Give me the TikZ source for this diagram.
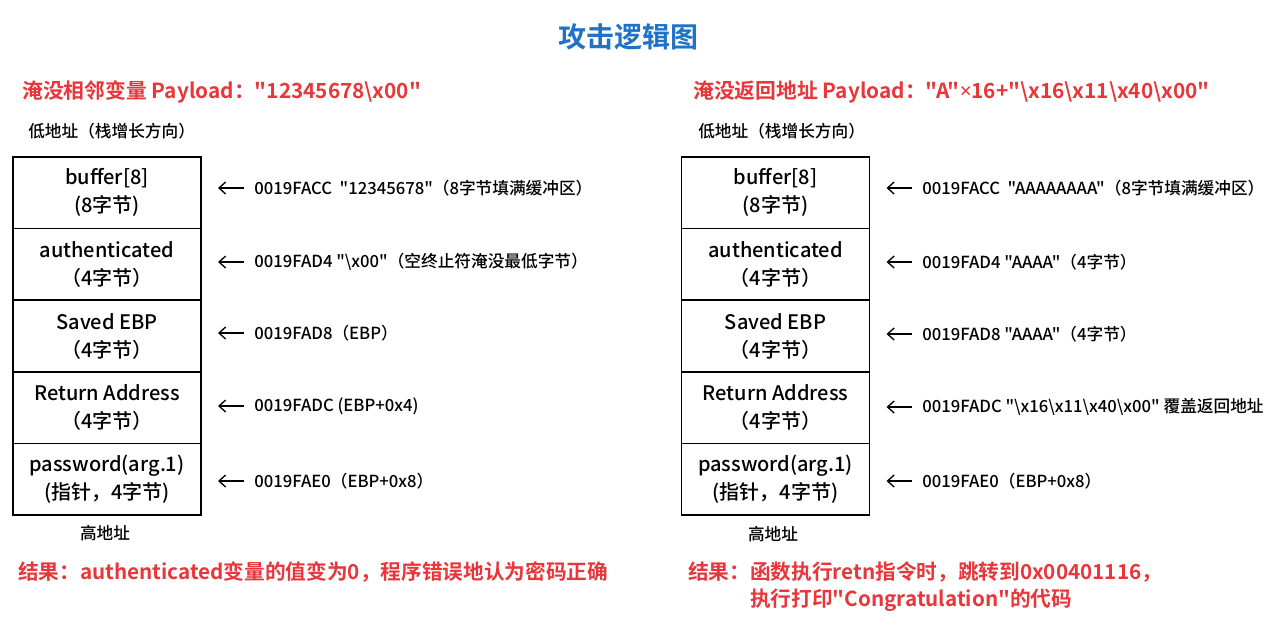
\documentclass[tikz,border=0pt]{standalone}
\usepackage{fontspec}
\setmainfont{Noto Sans CJK SC}[Ligatures=TeXOff,UprightFont={* Medium},BoldFont={* Bold}]
\newfontfamily\latinsans{Noto Sans}
\usetikzlibrary{positioning,arrows.meta}
\definecolor{payred}{HTML}{E8363A}
\definecolor{titleblue}{HTML}{1E73C8}
\newcommand{\bsl}{\textbackslash}
\newcommand{\mult}{{\latinsans ×}}

\begin{document}
\begin{tikzpicture}
        [
          x=0.75pt, y=-0.75pt,
          cell/.style={draw, line width=1.1pt, minimum width=141pt, minimum height=53.7pt,
            outer sep=0pt, inner sep=0pt, align=center, font=\fontsize{15}{21}\selectfont},
          note/.style={anchor=west, inner sep=0pt, font=\fontsize{12.5}{14}\selectfont},
          addr/.style={inner sep=0pt, font=\fontsize{12.5}{14}\selectfont},
          payload/.style={anchor=west, inner sep=0pt, text=payred, font=\bfseries\fontsize{15.6}{19}\selectfont},
          result/.style={anchor=west, inner sep=0pt, text=payred, align=left, font=\bfseries\fontsize{15.5}{20}\selectfont},
          ptr/.style={-{Straight Barb[length=5pt,width=9pt]}, line width=1pt, shorten >=12.75pt, shorten <=7.5pt}
        ]
        \useasboundingbox (0,0) rectangle (1288,626);

        % title
        \node[text=titleblue, font=\bfseries\fontsize{21}{24}\selectfont] (title) at (628,37) {攻击逻辑图};

        % left: overflow into authenticated
        \node[payload] (lpay) at (22,92) {淹没相邻变量 Payload："12345678\bsl x00"};
        \node[addr, anchor=west] (llow) at (28,131) {低地址（栈增长方向）};
        \node[cell] (lcell1) at (107,192.8) {buffer[8]\\(8字节)};
        \node[cell, below=0pt of lcell1] (lcell2) {authenticated\\（4字节）};
        \node[cell, below=0pt of lcell2] (lcell3) {Saved EBP\\（4字节）};
        \node[cell, below=0pt of lcell3] (lcell4) {Return Address\\（4字节）};
        \node[cell, below=0pt of lcell4] (lcell5) {password(arg.1)\\(指针，4字节)};
        \node[addr] (lhigh) at (105,533) {高地址};
        \node[note] (lnote1) at (254,188) {0019FACC\ \ "12345678"（8字节填满缓冲区）};
        \node[note] (lnote2) at (254,262) {0019FAD4 "\bsl x00"（空终止符淹没最低字节）};
        \node[note] (lnote3) at (254,333) {0019FAD8（EBP）};
        \node[note] (lnote4) at (254,406) {0019FADC (EBP+0x4)};
        \node[note] (lnote5) at (254,481) {0019FAE0（EBP+0x8）};
        \node[result] (lres) at (18,572) {结果：authenticated变量的值变为0，程序错误地认为密码正确};

        % right: overflow into return address
        \node[payload] (rpay) at (693,92) {淹没返回地址 Payload："A"\mult 16+"\bsl x16\bsl x11\bsl x40\bsl x00"};
        \node[addr, anchor=west] (rlow) at (698,131) {低地址（栈增长方向）};
        \node[cell] (rcell1) at (775.5,192.8) {buffer[8]\\(8字节)};
        \node[cell, below=0pt of rcell1] (rcell2) {authenticated\\（4字节）};
        \node[cell, below=0pt of rcell2] (rcell3) {Saved EBP\\（4字节）};
        \node[cell, below=0pt of rcell3] (rcell4) {Return Address\\（4字节）};
        \node[cell, below=0pt of rcell4] (rcell5) {password(arg.1)\\(指针，4字节)};
        \node[addr] (rhigh) at (773,534) {高地址};
        \node[note] (rnote1) at (922,188) {0019FACC\ \ "AAAAAAAA"（8字节填满缓冲区）};
        \node[note] (rnote2) at (922,262) {0019FAD4 "AAAA"（4字节）};
        \node[note] (rnote3) at (922,334) {0019FAD8 "AAAA"（4字节）};
        \node[note] (rnote4) at (922,407) {0019FADC "\bsl x16\bsl x11\bsl x40\bsl x00" 覆盖返回地址};
        \node[note] (rnote5) at (922,481) {0019FAE0（EBP+0x8）};
        \node[result] (rres) at (688,586.5) {结果：函数执行retn指令时，跳转到0x00401116，\\\hspace*{3em}执行打印"Congratulation"的代码};

        % pointers
        \foreach \i in {1,...,5} {
          \draw[ptr] (lnote\i.west) -- (lcell\i.east |- lnote\i.west);
          \draw[ptr] (rnote\i.west) -- (rcell\i.east |- rnote\i.west);
        }
    \end{tikzpicture}
\end{document}
